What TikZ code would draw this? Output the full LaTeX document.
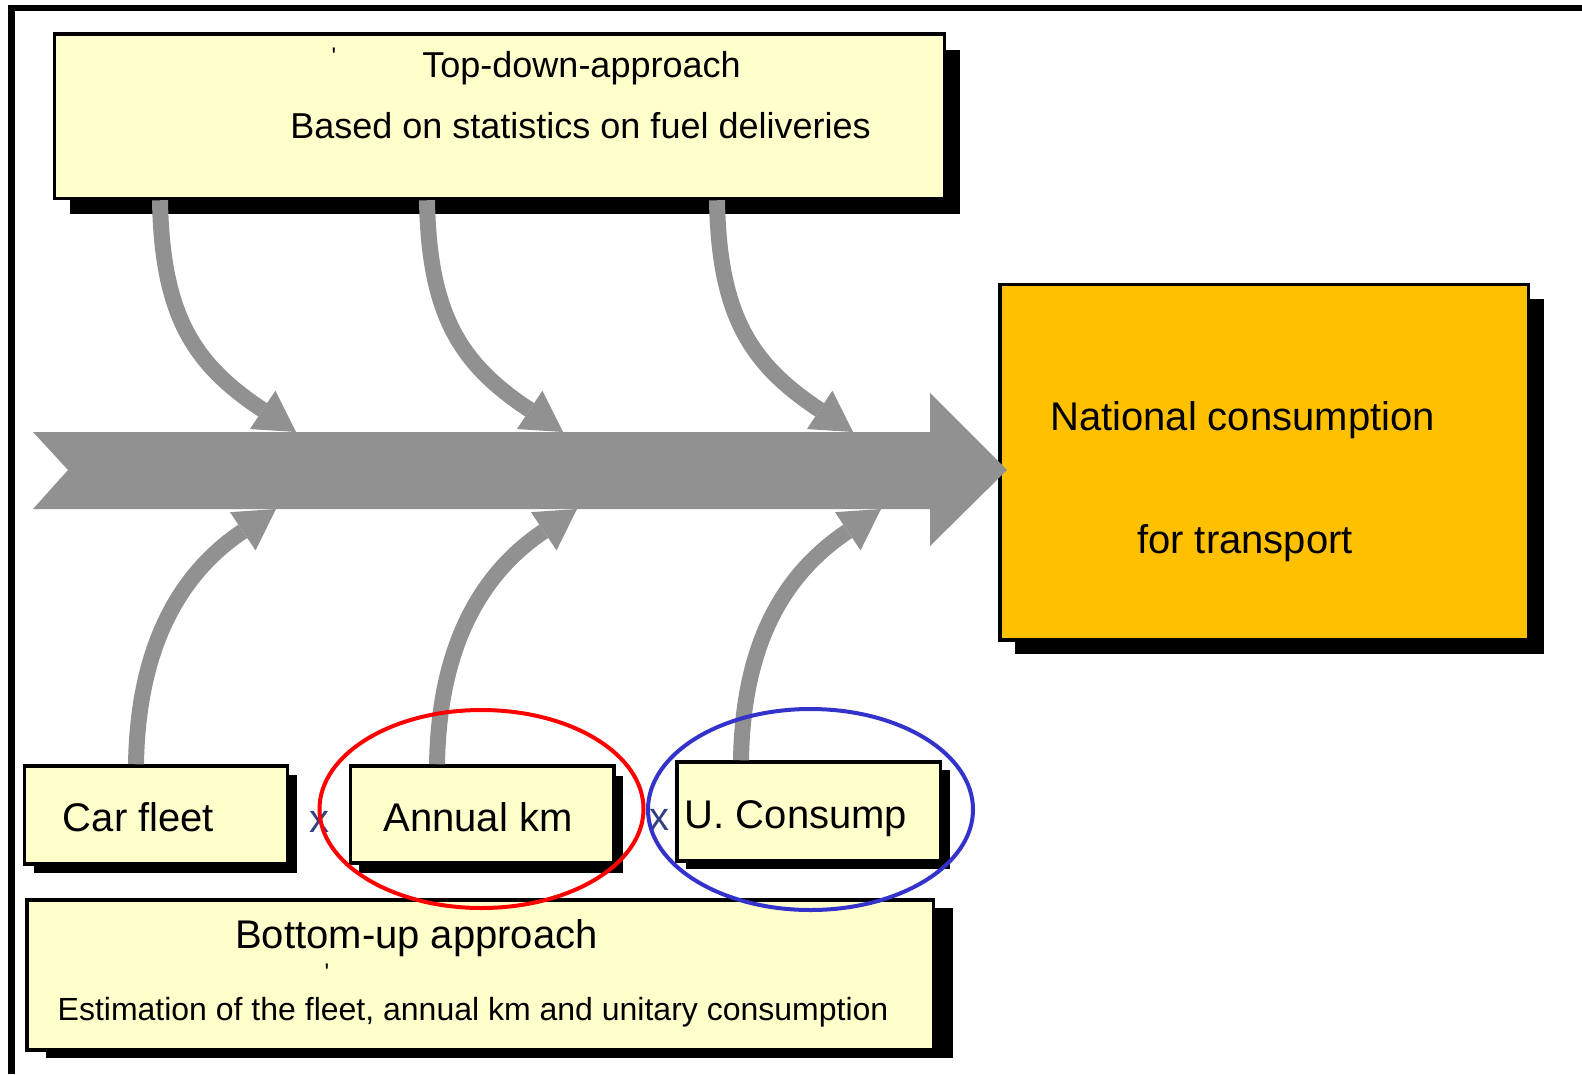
\documentclass[tikz,border=0pt]{standalone}
\usepackage{fontspec}
\setmainfont{Liberation Sans}
\usetikzlibrary{arrows.meta,shadows}
\definecolor{paper}{RGB}{255,255,204}
\definecolor{amber}{RGB}{255,192,0}
\definecolor{spinegray}{RGB}{145,145,145}
\definecolor{ringblue}{RGB}{51,51,204}
\definecolor{crossblue}{RGB}{50,65,130}
\begin{document}
\begin{tikzpicture}[x=1pt,y=-1pt,
	panel/.style={draw,line width=3.5pt,fill=paper,inner sep=0pt},
	castshadow/.style 2 args={drop shadow={shadow xshift=#1pt,shadow yshift=-#2pt,opacity=1,fill=black}},
	feeder/.style={draw=spinegray,line width=16pt,-{Triangle[length=40pt,width=46pt,line width=0pt]}},
	bigtext/.style={font=\fontsize{40}{48}\selectfont,anchor=base,inner sep=0pt},
	midtext/.style={font=\fontsize{36}{43}\selectfont,anchor=base,inner sep=0pt},
	smalltext/.style={font=\fontsize{32}{38}\selectfont,anchor=base,inner sep=0pt},
	ticktext/.style={font=\fontsize{24}{28}\selectfont,anchor=north,inner sep=0pt}]
	\useasboundingbox (0,0) rectangle (1582,1074);
	\draw[line width=6.5pt] (1582,8) -- (11.5,8) -- (11.5,1074);

	\node[panel,castshadow={15.75}{15.75},minimum width=890pt,minimum height=164.5pt] (top) at (499.5,116.25) {};
	\node[panel,fill=amber,castshadow={15.3}{14},minimum width=528.7pt,minimum height=355.3pt] (nat) at (1264.35,462.35) {};
	\node[panel,castshadow={9.5}{9},minimum width=263pt,minimum height=98pt] (fleet) at (156,815) {};
	\node[panel,castshadow={8.8}{10},minimum width=263.7pt,minimum height=97pt] (km) at (482.35,814.5) {};
	\node[panel,castshadow={9.3}{8},minimum width=263.7pt,minimum height=99pt] (cons) at (808.85,811.5) {};
	\node[panel,castshadow={19.3}{8},minimum width=906.7pt,minimum height=150pt] (bottom) at (480.35,975) {};

	\node[midtext] (tdtitle) at (581.5,77) {Top-down-approach};
	\node[midtext] (tdnote) at (580.5,138) {Based on statistics on fuel deliveries};
	\node[ticktext] (tdtick) at (334,48) {\textquotesingle};
	\node[bigtext] (natline) at (1242.5,430) {National consumption};
	\node[bigtext] (natsub) at (1245,553) {for transport};
	\node[bigtext] (fleettext) at (138.5,831) {Car fleet};
	\node[bigtext] (kmtext) at (478,831) {Annual km};
	\node[bigtext] (constext) at (796,828) {U. Consump};
	\node[bigtext,text=crossblue] (times1) at (319,832) {x};
	\node[bigtext,text=crossblue] (times2) at (659.5,830) {x};
	\node[bigtext] (butitle) at (416.5,948) {Bottom-up approach};
	\node[ticktext] (butick) at (327,964) {\textquotesingle};
	\node[smalltext] (bunote) at (473,1020) {Estimation of the fleet, annual km and unitary consumption};

	\foreach \dx [count=\i] in {0,267,557}{
		\coordinate (down\i) at (296+\dx,432);
		\draw[feeder] (top.south -| 160+\dx,0) .. controls +(2,117) and +(-101,-67) .. (down\i);
	}
	\foreach \dx/\src [count=\i] in {0/fleet,301/km,605/cons}{
		\coordinate (up\i) at (276+\dx,509);
		\draw[feeder] (\src.north -| 136+\dx,0) .. controls +(2,-125) and +(-91,61) .. (up\i);
	}

	\fill[spinegray] (33,432) -- (930,432) -- (930,393) -- (1007,470) -- (930,546) -- (930,509) -- (33,509) -- (68,470) -- cycle;

	\draw[red,line width=4pt] (481.5,809) ellipse [x radius=162pt,y radius=99pt];
	\draw[ringblue,line width=4pt] (810.5,809.5) ellipse [x radius=162.5pt,y radius=100.5pt];
\end{tikzpicture}
\end{document}
